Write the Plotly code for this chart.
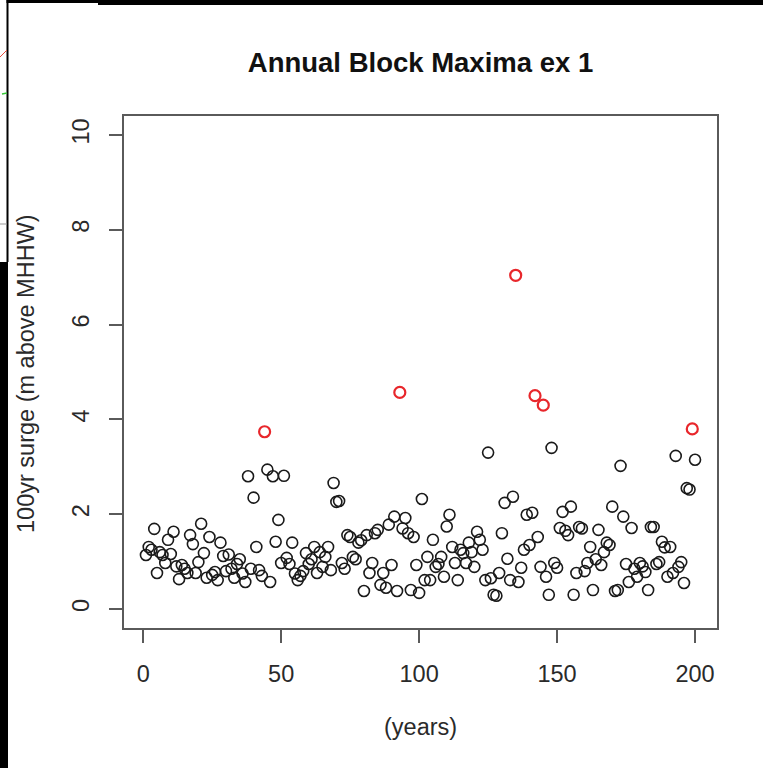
import plotly.graph_objects as go

# Annual maximum surge for each simulated year (m above MHHW)
years = list(range(1, 201))
surge = [
    1.14, 1.31, 1.25, 1.69, 0.76, 1.20, 1.14, 0.97, 1.46, 1.16,
    1.63, 0.90, 0.63, 0.93, 0.85, 0.76, 1.56, 1.37, 0.76, 0.99,
    1.80, 1.18, 0.66, 1.52, 0.72, 0.78, 0.61, 1.40, 1.12, 0.80,
    1.15, 0.85, 0.66, 0.95, 1.05, 0.75, 0.57, 2.80, 0.85, 2.35,
    1.31, 0.82, 0.70, 3.74, 2.94, 0.57, 2.80, 1.42, 1.88, 0.97,
    2.81, 1.08, 0.95, 1.40, 0.75, 0.61, 0.70, 0.80, 1.18, 0.95,
    1.05, 1.31, 0.76, 1.20, 0.89, 1.10, 1.31, 0.82, 2.66, 2.26,
    2.28, 0.97, 0.85, 1.56, 1.52, 1.10, 1.05, 1.40, 1.45, 0.38,
    1.56, 0.76, 0.97, 1.60, 1.67, 0.51, 0.76, 0.45, 1.78, 0.93,
    1.95, 0.38, 4.57, 1.70, 1.92, 1.60, 0.40, 1.52, 0.93, 0.34,
    2.32, 0.61, 1.10, 0.61, 1.46, 0.89, 0.95, 1.10, 0.68, 1.74,
    1.99, 1.31, 0.97, 0.61, 1.25, 1.18, 0.97, 1.40, 1.20, 0.89,
    1.63, 1.46, 1.25, 0.61, 3.30, 0.65, 0.30, 0.28, 0.76, 1.60,
    2.24, 1.06, 0.61, 2.37, 7.04, 0.57, 0.87, 1.25, 1.99, 1.35,
    2.03, 4.50, 1.52, 0.89, 4.30, 0.68, 0.30, 3.40, 0.97, 0.87,
    1.71, 2.05, 1.65, 1.56, 2.16, 0.30, 0.76, 1.73, 1.70, 0.80,
    0.97, 1.31, 0.40, 1.05, 1.67, 0.93, 1.20, 1.40, 1.35, 2.16,
    0.38, 0.40, 3.02, 1.95, 0.95, 0.57, 1.71, 0.85, 0.68, 0.97,
    0.90, 0.78, 0.40, 1.73, 1.73, 0.95, 0.99, 1.42, 1.30, 0.68,
    1.31, 0.76, 3.23, 0.89, 0.99, 0.55, 2.55, 2.52, 3.80, 3.15,
]
threshold = 3.5  # maxima above this are highlighted

x_ticks = [0, 50, 100, 150, 200]
y_ticks = [0, 2, 4, 6, 8, 10]

low_x = [x for x, v in zip(years, surge) if v <= threshold]
low_y = [v for v in surge if v <= threshold]
high_x = [x for x, v in zip(years, surge) if v > threshold]
high_y = [v for v in surge if v > threshold]

FONT = "Liberation Sans, Arial, sans-serif"
AXIS_GREY = "#5a5a5a"
TEXT = "#2a2a2a"

fig = go.Figure()
fig.add_trace(go.Scatter(
    x=low_x, y=low_y, mode="markers",
    marker=dict(symbol="circle-open", size=11, color="#1a1a1a",
                line=dict(width=1.6, color="#1a1a1a")),
    hoverinfo="skip", showlegend=False,
))
fig.add_trace(go.Scatter(
    x=high_x, y=high_y, mode="markers",
    marker=dict(symbol="circle-open", size=11, color="#e8262b",
                line=dict(width=2.2, color="#e8262b")),
    hoverinfo="skip", showlegend=False,
))

L, R, T, B = 124, 46, 116, 140
W, H = 763, 768
pw, ph = W - L - R, H - T - B


def px(x):
    return (x - L) / pw


def py(y):
    return (H - B - y) / ph


# dark window frame around the plotting device
shapes = [
    dict(type="rect", xref="paper", yref="paper", x0=px(98), x1=px(763),
         y0=py(5), y1=py(-2), fillcolor="black", line_width=0, layer="below"),
    dict(type="rect", xref="paper", yref="paper", x0=px(-2), x1=px(8),
         y0=py(770), y1=py(262), fillcolor="black", line_width=0, layer="below"),
    dict(type="rect", xref="paper", yref="paper", x0=px(6.5), x1=px(8.5),
         y0=py(262), y1=py(-2), fillcolor="black", line_width=0, layer="below"),
    dict(type="rect", xref="paper", yref="paper", x0=px(6.5), x1=px(100),
         y0=py(3), y1=py(-2), fillcolor="black", line_width=0, layer="below"),
    dict(type="line", xref="paper", yref="paper", x0=px(0), x1=px(7),
         y0=py(57), y1=py(50), line=dict(color="#e84a3a", width=1)),
    dict(type="line", xref="paper", yref="paper", x0=px(2), x1=px(7),
         y0=py(94), y1=py(93), line=dict(color="#3ac83a", width=1.5)),
    dict(type="line", xref="paper", yref="paper", x0=px(0), x1=px(7),
         y0=py(224), y1=py(224), line=dict(color="#999999", width=1)),
]

axis_common = dict(
    showline=True, mirror=True, linecolor=AXIS_GREY, linewidth=1.5,
    ticks="outside", ticklen=13, tickwidth=1.5, tickcolor=AXIS_GREY,
    showgrid=False, zeroline=False,
    tickfont=dict(family=FONT, size=23.5, color=TEXT),
    ticklabelstandoff=11,
)

fig.update_layout(
    width=W, height=H,
    margin=dict(l=L, r=R, t=T, b=B),
    paper_bgcolor="white", plot_bgcolor="white",
    title=dict(text="<b>Annual Block Maxima ex 1</b>", x=(L + pw / 2) / W,
               xanchor="center", y=1 - 62 / H, yanchor="middle",
               font=dict(family=FONT, size=27.5, color="#111111")),
    xaxis=dict(range=[-6.96, 207.96], tickvals=x_ticks,
               ticktext=[str(t) for t in x_ticks], **axis_common),
    yaxis=dict(range=[-0.4, 10.4], tickvals=y_ticks,
               ticktext=[str(t) for t in y_ticks], tickangle=-90,
               **axis_common),
    shapes=shapes,
    annotations=[
        dict(text="(years)", xref="paper", yref="paper", x=0.5, y=py(727),
             xanchor="center", yanchor="middle", showarrow=False,
             font=dict(family=FONT, size=23.5, color=TEXT)),
        dict(text="100yr surge (m above MHHW)", xref="paper", yref="paper",
             x=px(26), y=py(374), textangle=-90, xanchor="center",
             yanchor="middle", showarrow=False,
             font=dict(family=FONT, size=23.5, color=TEXT)),
    ],
)

fig.write_html("out.html")
